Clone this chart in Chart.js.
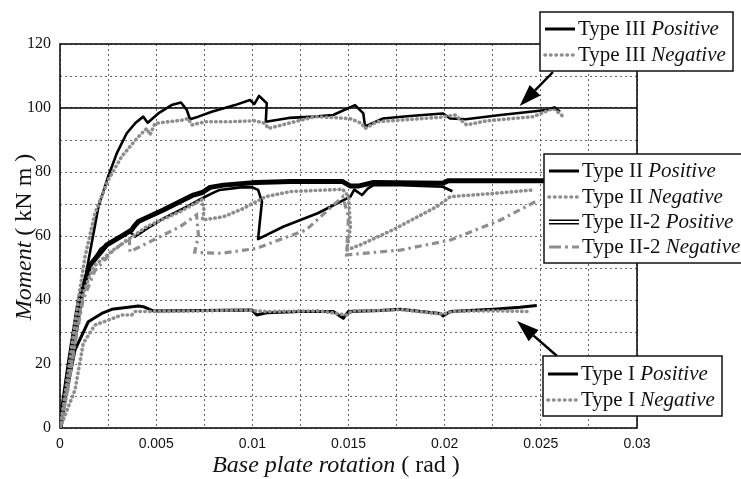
<!DOCTYPE html>
<html>
<head>
<meta charset="utf-8">
<script src="https://cdn.jsdelivr.net/npm/chart.js@4.4.0/dist/chart.umd.min.js"></script>
<style>
    html, body { margin: 0; padding: 0; background: #fff; }
    #wrap { width: 741px; height: 479px; }
</style>
</head>
<body>
<div id="wrap"><canvas id="momentChart" width="741" height="479"></canvas></div>
<script>
// Moment - base plate rotation curves

// axis ranges and ticks
const rotationMin = 0, rotationMax = 0.03, rotationGridStep = 0.0025, rotationLabelStep = 0.005;
const momentMin = 0, momentMax = 120, momentGridStep = 10, momentLabelStep = 20;
const referenceMoment = 100;

// [rotation (rad), moment (kN m)]
const typeIIIPositive = [
    [0, 0], [0.0005, 17], [0.001, 35], [0.00139, 49.4], [0.002, 69.2], [0.0025, 78.5],
    [0.00295, 85.8], [0.00347, 92.1], [0.00395, 95.5], [0.00433, 97.3], [0.00456, 95.4],
    [0.00511, 98.3], [0.0058, 100.9], [0.00629, 101.7], [0.00659, 99.4], [0.00676, 96.5],
    [0.00719, 97.3], [0.00789, 98.8], [0.0091, 100.9], [0.00988, 102.5], [0.0101, 101.2],
    [0.01035, 103.8], [0.01075, 101.5], [0.0107, 95.7], [0.0119, 96.9], [0.01326, 97.3],
    [0.0142, 97.8], [0.01534, 100.9], [0.01577, 98.3], [0.01586, 94.2], [0.0168, 96.7],
    [0.0182, 97.5], [0.0199, 98.3], [0.0203, 96.7], [0.0211, 96.5], [0.0229, 97.8],
    [0.0253, 99.4], [0.0257, 100.2], [0.026, 98.8]
];
const typeIIINegative = [
    [0, 0], [0.0003, 12], [0.0006, 25], [0.0009, 38], [0.0013, 53.5], [0.00182, 67.2],
    [0.00251, 77.5], [0.0032, 84.8], [0.00407, 91], [0.00451, 93.6], [0.00468, 91.6],
    [0.00494, 95.2], [0.00633, 96.2], [0.00667, 96.7], [0.00685, 94.7], [0.00754, 95.7],
    [0.00875, 95.7], [0.01014, 96.0], [0.01066, 95.2], [0.01083, 93.6], [0.01187, 95.2],
    [0.01326, 97.3], [0.01508, 96.7], [0.01568, 95.2], [0.01586, 93.6], [0.01647, 95.7],
    [0.01976, 97.1], [0.02054, 97.8], [0.02115, 94.7], [0.02219, 96], [0.02461, 97.3],
    [0.02565, 99.9], [0.02617, 97.3]
];
const typeIIPositive = [
    [0, 0], [0.0005, 20], [0.001, 38], [0.0014, 49], [0.0021, 56], [0.0033, 60.3],
    [0.0036, 61.5], [0.0039, 59.8], [0.0045, 62.2], [0.0054, 65.6], [0.0066, 69.2],
    [0.0074, 71.8], [0.0079, 73.3], [0.0083, 74.4], [0.0094, 75.2], [0.0100, 75.2],
    [0.0103, 74.4], [0.0105, 70.7], [0.0104, 65], [0.0103, 59], [0.0116, 62.9],
    [0.0134, 67.1], [0.0151, 72.3], [0.0153, 74.5], [0.0157, 72.8], [0.0160, 74.8],
    [0.0163, 75.9], [0.0177, 75.9], [0.0199, 75.4], [0.0204, 74.0]
];
const typeIINegative = [
    [0, 0], [0.0004, 12], [0.0008, 28], [0.0012, 42], [0.00173, 50.4], [0.00277, 55.6],
    [0.0045, 62.9], [0.00624, 67.6], [0.00736, 71.3], [0.0075, 68], [0.0074, 65],
    [0.00849, 66], [0.0095, 68.5], [0.0107, 72.3], [0.012, 73.9], [0.0147, 74.6],
    [0.0150, 72.3], [0.0151, 62.9], [0.0150, 58.7], [0.0149, 55.6], [0.0156, 57.2],
    [0.0173, 61.9], [0.0196, 69.2], [0.0203, 72.3], [0.0225, 73.3], [0.0246, 74.4]
];
const typeII2Positive = [
    [0, 0], [0.0005, 21], [0.001, 40], [0.00156, 50.9], [0.00243, 57.2], [0.00329, 60.3],
    [0.00373, 61.9], [0.00385, 63], [0.00407, 64.5], [0.00537, 68.1], [0.00693, 72.8],
    [0.0074, 73.6], [0.0078, 75.2], [0.0085, 75.9], [0.0102, 76.7], [0.012, 77],
    [0.0147, 77], [0.0151, 75.6], [0.0155, 75.6], [0.0163, 76.7], [0.0199, 76.5],
    [0.0202, 77.3], [0.0252, 77.3]
];
const typeII2Negative = [
    [0, 0], [0.0004, 12], [0.0008, 27], [0.0012, 40], [0.0018, 49], [0.0027, 55],
    [0.0036, 59.5], [0.00364, 55.1], [0.00624, 62.9], [0.0071, 66.6], [0.0072, 60],
    [0.0070, 55], [0.0073, 54.8], [0.0084, 54.6], [0.0102, 56.1], [0.0128, 61.9],
    [0.0147, 72.3], [0.0150, 66], [0.0149, 54.1], [0.0177, 55.6], [0.0203, 58.75],
    [0.0229, 65], [0.0249, 71.3]
];
const typeIPositive = [
    [0, 0], [0.0003, 10], [0.00078, 24.4], [0.00147, 33.2], [0.00217, 35.8], [0.00269, 37.1],
    [0.00407, 38.1], [0.00433, 37.9], [0.00485, 36.6], [0.00737, 36.7], [0.00997, 36.9],
    [0.01023, 35.3], [0.01075, 36.0], [0.01248, 36.4], [0.01421, 36.4], [0.01473, 34.3],
    [0.015, 36.4], [0.01664, 36.7], [0.01768, 37.1], [0.01976, 35.8], [0.01992, 35.0],
    [0.02028, 36.4], [0.02253, 37.1], [0.02392, 37.7], [0.02479, 38.3]
];
const typeINegative = [
    [0, 0], [0.00078, 11.9], [0.00121, 26.5], [0.00182, 32.2], [0.00251, 33.7], [0.0032, 35.3],
    [0.00373, 35.3], [0.0039, 36.4], [0.00494, 36.4], [0.00737, 36.6], [0.00936, 36.9],
    [0.01075, 36.4], [0.0135, 36.6], [0.0149, 35.3], [0.0152, 36.6], [0.01664, 36.7],
    [0.0177, 37.0], [0.0199, 35.6], [0.0205, 36.5], [0.0225, 36.6], [0.02444, 36.4]
];

// arrow tips in data units
const arrowTypeIII = [0.0239, 100.6];
const arrowTypeI = [0.02376, 33.4];

const GREY = '#8e8e8e';
const SERIF = '"Liberation Serif", "Times New Roman", serif';
const SANS = '"Liberation Sans", Arial, sans-serif';

function toPoints(arr) {
    return arr.map(p => ({ x: p[0], y: p[1] }));
}

function solidSet(data, width) {
    return { data: toPoints(data), borderColor: '#000', borderWidth: width, showLine: true, pointRadius: 0, borderJoinStyle: 'round' };
}
function dottedSet(data) {
    return { data: toPoints(data), borderColor: GREY, borderWidth: 3.6, borderDash: [0.5, 4.3], borderCapStyle: 'round', showLine: true, pointRadius: 0 };
}
function dashDotSet(data) {
    return { data: toPoints(data), borderColor: GREY, borderWidth: 3.2, borderDash: [7, 4, 2.5, 4], showLine: true, pointRadius: 0 };
}

const datasets = [
    { data: [{ x: rotationMin, y: referenceMoment }, { x: rotationMax, y: referenceMoment }],
      borderColor: '#000', borderWidth: 1.5, showLine: true, pointRadius: 0 },
    dashDotSet(typeII2Negative),
    dottedSet(typeIINegative),
    dottedSet(typeIIINegative),
    dottedSet(typeINegative),
    solidSet(typeIIPositive, 2.6),
    solidSet(typeII2Positive, 5),
    { data: toPoints(typeII2Positive), borderColor: '#fff', borderWidth: 2, showLine: true, pointRadius: 0 },
    solidSet(typeIIIPositive, 2.6),
    solidSet(typeIPositive, 3)
];

// legend boxes (pixels)
const legendBoxes = [
    { x: 540, y: 12, w: 193, h: 59, rows: [
        { type: 'Type III ', sense: 'Positive', sample: 'solid', y: 35 },
        { type: 'Type III ', sense: 'Negative', sample: 'dots', y: 61 }
    ], arrowFrom: [553, 72], arrowTo: arrowTypeIII },
    { x: 544, y: 154, w: 210, h: 109, rows: [
        { type: 'Type II ', sense: 'Positive', sample: 'solid', y: 177 },
        { type: 'Type II ', sense: 'Negative', sample: 'dots', y: 203 },
        { type: 'Type II-2 ', sense: 'Positive', sample: 'double', y: 228 },
        { type: 'Type II-2 ', sense: 'Negative', sample: 'dashdot', y: 253 }
    ] },
    { x: 543, y: 356, w: 179, h: 60, rows: [
        { type: 'Type I ', sense: 'Positive', sample: 'solid', y: 380 },
        { type: 'Type I ', sense: 'Negative', sample: 'dots', y: 406 }
    ], arrowFrom: [557, 356], arrowTo: arrowTypeI }
];

function drawSample(ctx, kind, x1, x2, y) {
    ctx.save();
    ctx.beginPath();
    ctx.moveTo(x1, y);
    ctx.lineTo(x2, y);
    if (kind === 'solid') {
        ctx.strokeStyle = '#000'; ctx.lineWidth = 3; ctx.stroke();
    } else if (kind === 'dots') {
        ctx.strokeStyle = GREY; ctx.lineWidth = 3.6; ctx.lineCap = 'round';
        ctx.setLineDash([0.5, 5]); ctx.stroke();
    } else if (kind === 'double') {
        ctx.strokeStyle = '#000'; ctx.lineWidth = 5; ctx.stroke();
        ctx.strokeStyle = '#fff'; ctx.lineWidth = 2; ctx.stroke();
    } else if (kind === 'dashdot') {
        ctx.strokeStyle = GREY; ctx.lineWidth = 3.2;
        ctx.setLineDash([12, 4, 3, 4]); ctx.stroke();
    }
    ctx.restore();
}

function drawArrow(ctx, from, to) {
    const dx = to[0] - from[0], dy = to[1] - from[1];
    const len = Math.hypot(dx, dy);
    const ux = dx / len, uy = dy / len;
    const headLen = 22, headHalf = 7.5;
    const bx = to[0] - ux * headLen, by = to[1] - uy * headLen;
    ctx.save();
    ctx.strokeStyle = '#000';
    ctx.lineWidth = 2.5;
    ctx.beginPath();
    ctx.moveTo(from[0], from[1]);
    ctx.lineTo(bx, by);
    ctx.stroke();
    ctx.fillStyle = '#000';
    ctx.beginPath();
    ctx.moveTo(to[0], to[1]);
    ctx.lineTo(bx - uy * headHalf, by + ux * headHalf);
    ctx.lineTo(bx + uy * headHalf, by - ux * headHalf);
    ctx.closePath();
    ctx.fill();
    ctx.restore();
}

const decorPlugin = {
    id: 'decor',
    beforeDatasetsDraw(chart) {
        const { ctx, chartArea: a } = chart;
        ctx.save();
        ctx.strokeStyle = '#111';
        ctx.lineWidth = 1.6;
        ctx.strokeRect(a.left, a.top, a.right - a.left, a.bottom - a.top);
        ctx.restore();
    },
    afterDraw(chart) {
        const { ctx, scales } = chart;
        const up = '21px ' + SERIF;
        const it = 'italic 21px ' + SERIF;

        legendBoxes.forEach(box => {
            if (box.arrowTo) {
                const tip = [scales.x.getPixelForValue(box.arrowTo[0]), scales.y.getPixelForValue(box.arrowTo[1])];
                drawArrow(ctx, box.arrowFrom, tip);
            }
            ctx.save();
            ctx.fillStyle = '#fff';
            ctx.fillRect(box.x, box.y, box.w, box.h);
            ctx.strokeStyle = '#111';
            ctx.lineWidth = 1.5;
            ctx.strokeRect(box.x, box.y, box.w, box.h);
            box.rows.forEach(r => {
                drawSample(ctx, r.sample, box.x + 5, box.x + 35, r.y - 6);
                ctx.fillStyle = '#111';
                ctx.textBaseline = 'alphabetic';
                ctx.textAlign = 'left';
                ctx.font = up;
                const tx = box.x + 38;
                ctx.fillText(r.type, tx, r.y);
                const w = ctx.measureText(r.type).width;
                ctx.font = it;
                ctx.fillText(r.sense, tx + w, r.y);
            });
            ctx.restore();
        });

        // axis titles
        ctx.save();
        ctx.fillStyle = '#111';
        ctx.textBaseline = 'alphabetic';
        ctx.textAlign = 'left';
        const tUp = '24px ' + SERIF, tIt = 'italic 24px ' + SERIF;

        const xa = 'Base plate rotation', xb = ' ( rad )';
        ctx.font = tIt; const wa = ctx.measureText(xa).width;
        ctx.font = tUp; const wb = ctx.measureText(xb).width;
        const sx = 336 - (wa + wb) / 2;
        ctx.font = tIt; ctx.fillText(xa, sx, 472);
        ctx.font = tUp; ctx.fillText(xb, sx + wa, 472);

        const ya = 'Moment', yb = ' ( kN m )';
        ctx.font = tIt; const ha = ctx.measureText(ya).width;
        ctx.font = tUp; const hb = ctx.measureText(yb).width;
        ctx.translate(31, 237 + (ha + hb) / 2);
        ctx.rotate(-Math.PI / 2);
        ctx.font = tIt; ctx.fillText(ya, 0, 0);
        ctx.font = tUp; ctx.fillText(yb, ha, 0);
        ctx.restore();
    }
};

function isMultiple(v, step) {
    const r = v / step;
    return Math.abs(r - Math.round(r)) < 1e-6;
}

const ctx = document.getElementById('momentChart').getContext('2d');
new Chart(ctx, {
    type: 'scatter',
    data: { datasets: datasets },
    options: {
        responsive: false,
        animation: false,
        layout: { padding: { left: 0, top: 44, right: 104, bottom: 0 } },
        plugins: { legend: { display: false }, tooltip: { enabled: false } },
        elements: { line: { tension: 0 }, point: { radius: 0 } },
        scales: {
            x: {
                type: 'linear',
                min: rotationMin,
                max: rotationMax,
                afterFit: function(scale) { scale.height = 51; },
                grid: { color: '#555', lineWidth: 0.9, drawTicks: false },
                border: { display: false, dash: [2, 3] },
                ticks: {
                    stepSize: rotationGridStep,
                    padding: 8,
                    autoSkip: false,
                    maxRotation: 0,
                    color: '#111',
                    font: { family: SANS, size: 14 },
                    callback: function(value) {
                        if (!isMultiple(value, rotationLabelStep)) return '';
                        return String(Number(value.toFixed(4)));
                    }
                }
            },
            y: {
                type: 'linear',
                min: momentMin,
                max: momentMax,
                afterFit: function(scale) { scale.width = 60; },
                grid: { color: '#555', lineWidth: 0.9, drawTicks: false },
                border: { display: false, dash: [2, 3] },
                ticks: {
                    stepSize: momentGridStep,
                    padding: 9,
                    autoSkip: false,
                    color: '#111',
                    font: { family: SERIF, size: 16 },
                    callback: function(value) {
                        return isMultiple(value, momentLabelStep) ? String(value) : '';
                    }
                }
            }
        }
    },
    plugins: [decorPlugin]
});
</script>
</body>
</html>
